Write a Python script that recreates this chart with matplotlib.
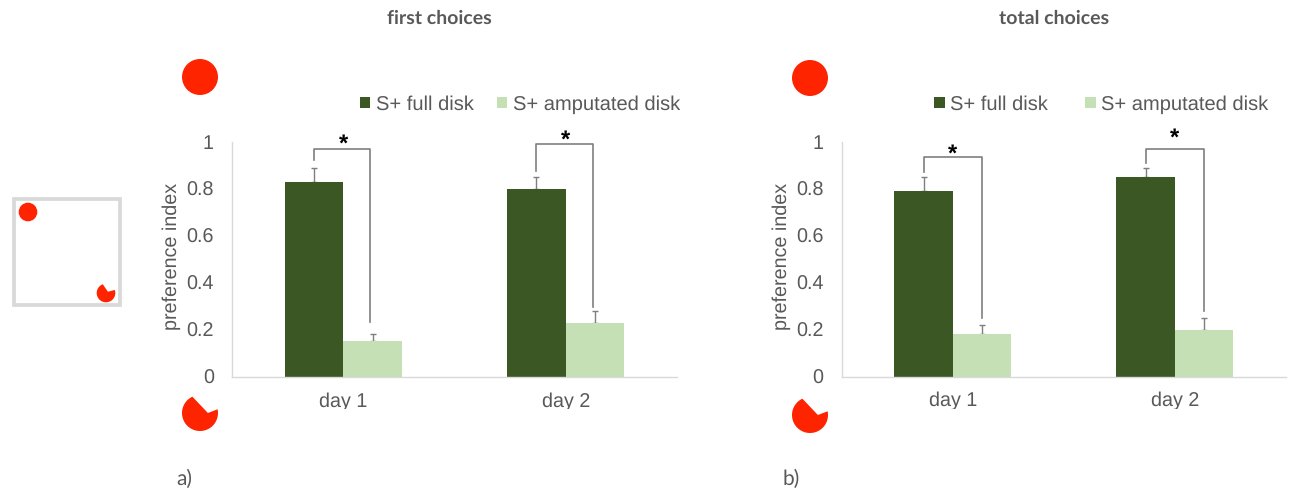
import numpy as np
import matplotlib
matplotlib.use('Agg')
import matplotlib.pyplot as plt
from matplotlib.patches import Circle, Polygon, Rectangle
from matplotlib.transforms import Bbox

days = ['day 1', 'day 2']
series_names = ['S+ full disk', 'S+ amputated disk']

# first choices
first_full = [0.83, 0.80]
first_amp = [0.15, 0.23]
first_full_err = [0.06, 0.05]
first_amp_err = [0.03, 0.05]

# total choices
total_full = [0.79, 0.85]
total_amp = [0.18, 0.20]
total_full_err = [0.06, 0.04]
total_amp_err = [0.04, 0.05]

# significance brackets: top, left foot, right foot, height of the star
first_brackets = [(0.967, 0.92, 0.234, 1.003), (0.989, 0.876, 0.298, 1.02)]
total_brackets = [(0.934, 0.873, 0.25, 0.96), (0.968, 0.91, 0.277, 1.03)]

W, H = 1291, 490
DARK = '#3b5723'
LIGHT = '#c5e0b4'
GREY = '#595959'
RED = '#ff2400'

plt.rcParams['font.family'] = 'Liberation Sans'
plt.rcParams['text.hinting'] = 'no_hinting'


def px_axes(left, right, top, bottom):
    return fig.add_axes([left / W, 1 - bottom / H, (right - left) / W, (bottom - top) / H])


def draw_panel(ax, full, amp, full_err, amp_err, brackets, foot_shift, clip_y):
    x = np.arange(len(days))
    width = 0.263
    err_style = dict(fmt='none', ecolor='#7f7f7f', elinewidth=1, capsize=2.5, capthick=1, zorder=1)
    ax.errorbar(x - width / 2, full, yerr=[[0, 0], full_err], **err_style)
    ax.errorbar(x + width / 2, amp, yerr=[[0, 0], amp_err], **err_style)
    ax.bar(x - width / 2, full, width, color=DARK, label=series_names[0], zorder=2)
    ax.bar(x + width / 2, amp, width, color=LIGHT, label=series_names[1], zorder=2)
    ax.set_xlim(-0.5, 1.5)
    ax.set_ylim(0, 1)
    ax.set_xticks(x)
    ax.set_xticklabels(days)
    ax.set_yticks([0, 0.2, 0.4, 0.6, 0.8, 1])
    ax.set_yticklabels(['0', '0.2', '0.4', '0.6', '0.8', '1'])
    ax.tick_params(length=0, labelsize=14.2, labelcolor=GREY)
    ax.tick_params(axis='y', pad=13)
    ax.tick_params(axis='x', pad=11)
    ax.set_ylabel('preference index', fontsize=14.2, color=GREY, labelpad=4, y=0.513)
    # the descenders of the day labels are cut off in the original
    for lab in ax.get_xticklabels():
        lab.set_clip_on(True)
        lab.set_clip_box(Bbox([[0, H - clip_y], [W, H]]))
    for s in ['top', 'right']:
        ax.spines[s].set_visible(False)
    for s in ['left', 'bottom']:
        ax.spines[s].set_color('#d9d9d9')
        ax.spines[s].set_linewidth(1)
    for i, (top, lfoot, rfoot, star) in enumerate(brackets):
        x0 = i - width / 2
        x1 = i + width / 2 - foot_shift
        ax.plot([x0, x0, x1, x1], [lfoot, top, top, rfoot], color='#7f7f7f', lw=1.2,
                clip_on=False, zorder=3)
        ax.text(i, star - 0.015, '*', ha='center', va='center', fontsize=17,
                fontweight='bold', color='black', clip_on=False)


def amputated(ax, cx, cy, r, start, end, vx, vy):
    # pacman shaped disk, notch opening up and to the right, vertex at (vx, vy) radii from centre
    a = np.radians(np.linspace(start, end - 360, 80))
    xs = cx + r * np.cos(a)
    ys = cy - r * np.sin(a)
    pts = np.column_stack([np.r_[xs, cx + vx * r], np.r_[ys, cy + vy * r]])
    ax.add_patch(Polygon(pts, closed=True, color=RED, lw=0))


fig = plt.figure(figsize=(W / 100, H / 100), dpi=100, facecolor='white')

ax1 = px_axes(232, 677, 141.7, 376.7)
draw_panel(ax1, first_full, first_amp, first_full_err, first_amp_err, first_brackets, 0.01, 408.5)
ax2 = px_axes(841.7, 1286, 141.7, 376.5)
draw_panel(ax2, total_full, total_amp, total_full_err, total_amp_err, total_brackets, 0.0, 408.5)

for ax, right, spacing in [(ax1, 680, 1.15), (ax2, 1268.5, 1.85)]:
    ax.legend(loc='center right', bbox_to_anchor=(right / W, 1 - 104.5 / H),
              bbox_transform=fig.transFigure, ncols=2, frameon=False, fontsize=14.5,
              labelcolor=GREY, handlelength=0.53, handleheight=0.53, handletextpad=0.27,
              columnspacing=spacing, borderpad=0, borderaxespad=0)

# overlay in pixel coordinates for titles, disks and panel letters
ov = fig.add_axes([0, 0, 1, 1], facecolor='none')
ov.set_xlim(0, W)
ov.set_ylim(H, 0)
ov.axis('off')

ov.text(439, 18, 'first choices', ha='center', va='center', fontsize=14, fontweight='bold',
        color=GREY, family='Lato')
ov.text(1054, 18, 'total choices', ha='center', va='center', fontsize=14, fontweight='bold',
        color=GREY, family='Lato')
ov.text(176, 479, 'a)', ha='left', va='center', fontsize=15, color=GREY, family='Lato')
ov.text(783, 479, 'b)', ha='left', va='center', fontsize=15, color=GREY, family='Lato')

ov.add_patch(Circle((200, 77), 18, color=RED, lw=0))
amputated(ov, 200, 413, 18, 12, 115, 0.44, 0)
ov.add_patch(Circle((810, 78), 18, color=RED, lw=0))
amputated(ov, 810, 415, 18, 12, 115, 0.44, 0)

ov.add_patch(Rectangle((14.2, 198.9), 106.2, 106.2, fill=False, ec='#d9d9d9', lw=2.7))
ov.add_patch(Circle((28, 212), 9.3, color=RED, lw=0))
amputated(ov, 106, 293, 9.3, 19, 110, 0.2, -0.14)

fig.savefig('out.png', dpi=100)
